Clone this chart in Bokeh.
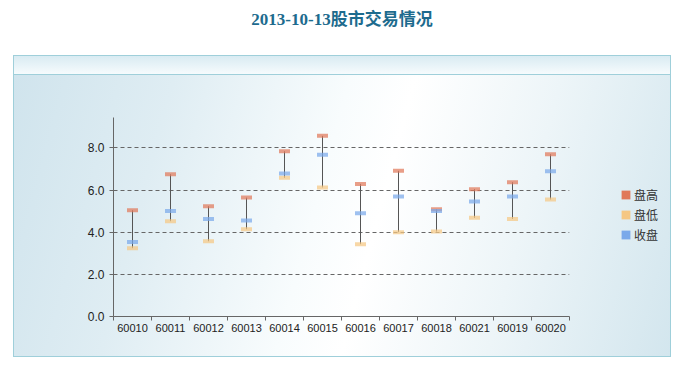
from bokeh.plotting import figure
from bokeh.models import (ColumnDataSource, Range1d, FixedTicker, PrintfTickFormatter,
                          Legend, LegendItem, Div)
from bokeh.layouts import column, row
from bokeh.embed import file_html
from bokeh.resources import INLINE

# ---- data ----
title_text = "2013-10-13股市交易情况"
codes = ["60010", "60011", "60012", "60013", "60014", "60015",
         "60016", "60017", "60018", "60021", "60019", "60020"]
high = [5.04, 6.75, 5.23, 5.64, 7.84, 8.57, 6.29, 6.91, 5.09, 6.04, 6.37, 7.70]
low = [3.24, 4.52, 3.57, 4.14, 6.58, 6.12, 3.43, 4.00, 4.03, 4.68, 4.63, 5.55]
close = [3.54, 5.00, 4.63, 4.55, 6.78, 7.67, 4.90, 5.69, 5.00, 5.45, 5.69, 6.89]
series_names = ["盘高", "盘低", "收盘"]
y_ticks = [0, 2, 4, 6, 8]

n = len(codes)
xs = [i + 0.5 for i in range(n)]
src = ColumnDataSource(dict(x=xs, high=high, low=low, close=close))

# ---- title ----
title_div = Div(
    text=('<div style="width:659px;text-align:center;padding-left:25px;padding-top:10px;'
          'line-height:20px;font-family:\'Liberation Serif\',\'Noto Sans CJK SC\';'
          'font-size:17px;font-weight:bold;color:#1d6b8e;">' + title_text + '</div>'),
    width=671, height=55, margin=0)

# ---- main chart ----
p = figure(width=590, height=303, output_backend="svg", toolbar_location=None,
           x_range=Range1d(0, n), y_range=Range1d(0, 9.44),
           min_border_left=113, min_border_right=21,
           min_border_top=62, min_border_bottom=42, margin=0)
p.background_fill_alpha = 0
p.border_fill_alpha = 0
p.outline_line_color = None

xa = p.xaxis[0]
xa.ticker = FixedTicker(ticks=xs, minor_ticks=list(range(n + 1)))
xa.major_label_overrides = {x: c for x, c in zip(xs, codes)}
xa.major_tick_out = 0
xa.major_tick_in = 0
xa.minor_tick_out = 4
xa.minor_tick_in = 0
xa.minor_tick_line_color = "#666666"
xa.axis_line_color = "#666666"
xa.major_label_text_font = "Liberation Sans"
xa.major_label_text_font_size = "11px"
xa.major_label_text_color = "#222222"
xa.major_label_standoff = 3

ya = p.yaxis[0]
ya.ticker = FixedTicker(ticks=y_ticks, minor_ticks=[])
ya.formatter = PrintfTickFormatter(format="%.1f")
ya.major_tick_out = 4
ya.major_tick_in = 0
ya.major_tick_line_color = "#666666"
ya.axis_line_color = "#666666"
ya.major_label_text_font = "Liberation Sans"
ya.major_label_text_font_size = "12px"
ya.major_label_text_color = "#222222"
ya.major_label_standoff = 5

p.xgrid.grid_line_color = None
p.ygrid.grid_line_color = "#666666"
p.ygrid.grid_line_dash = "4 3"
p.ygrid.grid_line_width = 1

p.segment(x0="x", y0="high", x1="x", y1="low", source=src,
          line_color="#555555", line_width=1)
colors = ["#e0785a", "#f5c783", "#7aa9ea"]
mark_alpha = 0.72
for col, c in zip(["high", "low", "close"], colors):
    p.rect(x="x", y=col, width=11, height=4, width_units="screen", height_units="screen",
           source=src, fill_color=c, fill_alpha=mark_alpha, line_color=None)

# ---- legend panel ----
lf = figure(width=81, height=303, output_backend="svg", toolbar_location=None,
            x_range=Range1d(0, 1), y_range=Range1d(0, 1),
            min_border=0, margin=0)
lf.axis.visible = False
lf.grid.visible = False
lf.background_fill_alpha = 0
lf.border_fill_alpha = 0
lf.outline_line_color = None
items = []
nan = float("nan")
for name, c in zip(series_names, colors):
    r = lf.rect(x=[nan], y=[nan], width=1, height=1, fill_color=c, line_color=None)
    items.append(LegendItem(label=name, renderers=[r]))
leg = Legend(items=items, location=(30, 73), orientation="vertical",
             glyph_width=11, glyph_height=11, label_height=16, spacing=3,
             padding=0, margin=0, label_standoff=3,
             label_text_font="Noto Sans CJK SC", label_text_font_size="12px",
             label_text_color="#333333",
             border_line_color=None, background_fill_alpha=0)
lf.add_layout(leg, "center")

# ---- page background (panel box, header strip, gradient) ----
border = "#9fcfda"
bg_layers = [
    f"linear-gradient({border},{border}) 13px 55px / 658px 1px no-repeat",
    f"linear-gradient({border},{border}) 13px 356px / 658px 1px no-repeat",
    f"linear-gradient({border},{border}) 13px 55px / 1px 302px no-repeat",
    f"linear-gradient({border},{border}) 670px 55px / 1px 302px no-repeat",
    f"linear-gradient({border},{border}) 13px 74px / 658px 1px no-repeat",
    "linear-gradient(to bottom, #d9ebf2, #f6fbfd) 14px 56px / 656px 18px no-repeat",
    "linear-gradient(105deg, #d0e4ed 0%, #dfedf3 22%, #f8fcfd 46%, #ffffff 55%, "
    "#edf5f8 75%, #d3e6ee 100%) 14px 75px / 656px 281px no-repeat",
    "#ffffff",
]
layout = column(title_div, row(p, lf, spacing=0, margin=0), spacing=0, margin=0,
                styles={"background": ", ".join(bg_layers)})

open("out.html", "w").write(file_html(layout, INLINE))
